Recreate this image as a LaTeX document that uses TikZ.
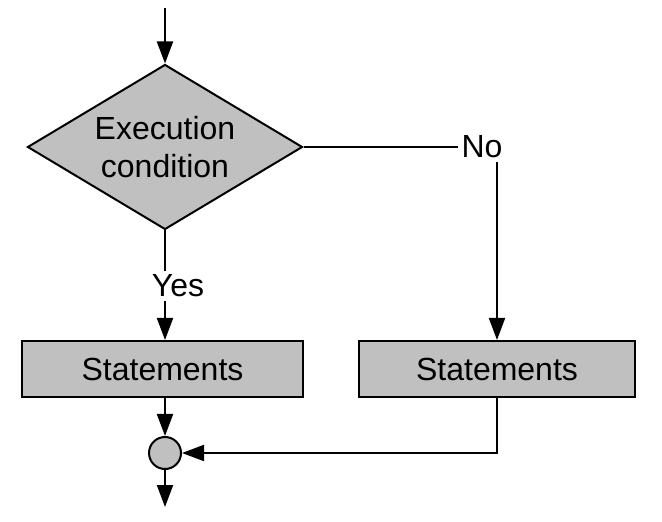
\documentclass[tikz,border=0pt]{standalone}
\usepackage{fontspec}
\setmainfont{Liberation Sans}
\usetikzlibrary{shapes.geometric,arrows.meta}
\definecolor{fillgray}{RGB}{192,192,192}

\begin{document}
\begin{tikzpicture}[x=0.5pt, y=-0.5pt, line width=1pt,
  every node/.style={font=\fontsize{16}{19}\selectfont},
  arr/.style={-{Triangle[length=11pt,width=8pt]}},
  decision/.style={draw, fill=fillgray, shape=diamond, aspect=1.667, inner sep=0pt, minimum width=137.5pt, minimum height=82.5pt, align=center},
  stmtbox/.style={draw, fill=fillgray, minimum height=28pt, inner sep=0pt},
  label/.style={inner sep=1.5pt}]
\useasboundingbox (0,0) rectangle (662,522);
\coordinate (in) at (165,8);
\coordinate (out) at (165,507);
\node[decision] (cond) at (165,147) {Execution\\condition};
\node[label] (no) at (482,147) {No};
\node[label] (yes) at (178,286) {Yes};
\node[stmtbox, minimum width=140.5pt] (lbox) at (162.5,369) {Statements};
\node[stmtbox, minimum width=138pt] (rbox) at (497,369) {Statements};
\node[draw, fill=fillgray, circle, minimum size=16pt, inner sep=0pt] (join) at (165,453) {};
\draw[arr] (in) -- (cond.north);
\draw (cond.east) -- (no.west);
\draw[arr] (rbox.north |- no.south) -- (rbox.north);
\draw (cond.south) -- (cond.south |- yes.north);
\draw[arr] (cond.south |- yes.south) -- (cond.south |- lbox.north);
\draw[arr] (cond.south |- lbox.south) -- (join.north);
\draw[arr] (rbox.south) |- (join.east);
\draw[arr] (join.south) -- (out);
\end{tikzpicture}
\end{document}
